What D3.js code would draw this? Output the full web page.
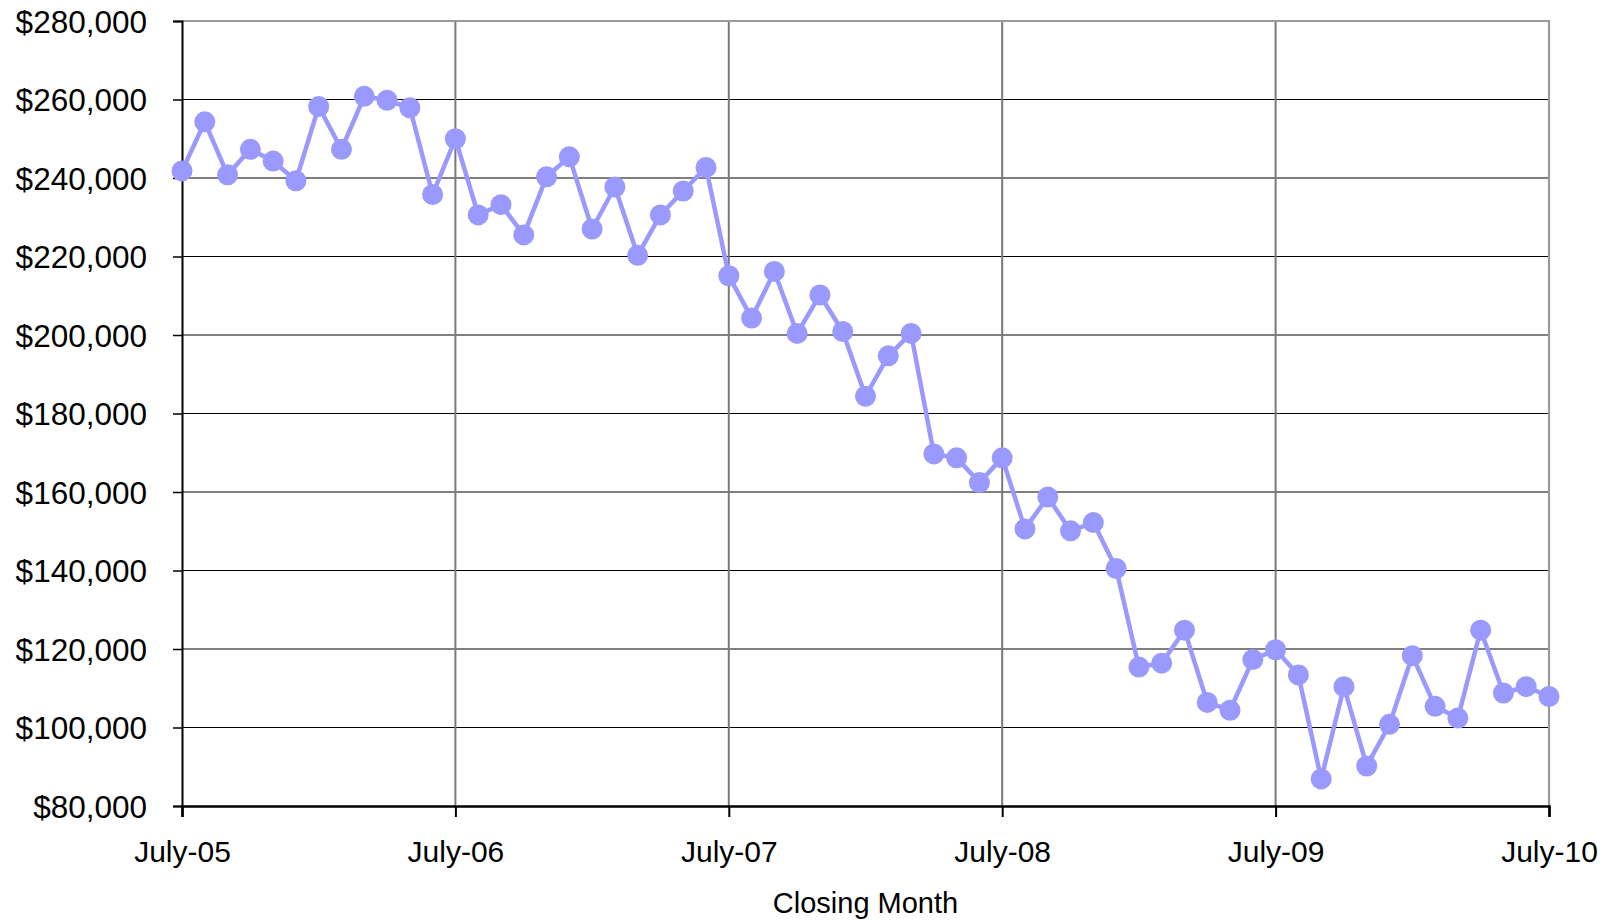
<!DOCTYPE html>
<html>
<head>
<meta charset="utf-8">
<script src="https://cdn.jsdelivr.net/npm/d3@7"></script>
<style>
  html, body { margin: 0; padding: 0; background: #fff; }
  svg { display: block; }
  text { font-family: "Liberation Sans", Arial, sans-serif; fill: #000; }
</style>
</head>
<body>
<svg id="chart" width="1613" height="922"></svg>
<script>
// Monthly median closing price, July 2005 .. July 2010
const months = d3.range(61).map(i => new Date(2005, 6 + i, 1));
const prices = [
  241800, 254300, 240800, 247300, 244300, 239300, 258200, 247300, 260800, 259800, 257900, 235800,
  250000, 230600, 233200, 225500, 240300, 245400, 227000, 237700, 220300, 230600, 236700, 242700,
  215100, 204300, 216200, 200400, 210200, 200900, 184400, 194700, 200400, 169700, 168700, 162400,
  168700, 150600, 158700, 150100, 152200, 140500, 115400, 116400, 124800, 106400, 104400, 117300,
  119800, 113400, 86900, 110400, 90200, 100800, 118300, 105400, 102400, 124800, 108800, 110400,
  107900
];
const xTickIndex = [0, 12, 24, 36, 48, 60];
const xTickLabels = ["July-05", "July-06", "July-07", "July-08", "July-09", "July-10"];
const yTicks = [80000, 100000, 120000, 140000, 160000, 180000, 200000, 220000, 240000, 260000, 280000];
const xTitle = "Closing Month";

const svg = d3.select("#chart");
const L = 182, R = 1549, T = 21, B = 806;

const x = d3.scaleLinear().domain([0, 60]).range([L, R]);
const y = d3.scaleLinear().domain([80000, 280000]).range([B, T]);
const fmt = v => "$" + d3.format(",")(v);

// horizontal gridlines
svg.append("g").selectAll("line").data(yTicks.filter(v => v > 80000 && v < 280000)).join("line")
  .attr("x1", L).attr("x2", R)
  .attr("y1", d => y(d)).attr("y2", d => y(d))
  .attr("stroke", "#000").attr("stroke-width", 1.2);

// vertical gridlines
svg.append("g").selectAll("line").data(xTickIndex.filter(i => i > 0 && i < 60)).join("line")
  .attr("x1", d => x(d)).attr("x2", d => x(d))
  .attr("y1", T).attr("y2", B)
  .attr("stroke", "#7a7a7a").attr("stroke-width", 2);

// plot border top & right
svg.append("path")
  .attr("d", `M${L},${T}H${R}V${B}`)
  .attr("fill", "none").attr("stroke", "#9a9a9a").attr("stroke-width", 2.2);

// y axis
const yAxis = d3.axisLeft(y).tickValues(yTicks).tickFormat(fmt).tickSize(9).tickPadding(26);
const gy = svg.append("g").attr("transform", `translate(${L},0)`).call(yAxis);
gy.select(".domain").attr("stroke", "#000").attr("stroke-width", 2);
gy.selectAll(".tick line").attr("stroke", "#000").attr("stroke-width", 1.5);
gy.selectAll(".tick text").attr("font-size", 31.5).attr("font-family", "Liberation Sans, Arial, sans-serif").attr("fill", "#000").attr("dy", "0.36em");

// x axis
const xAxis = d3.axisBottom(x).tickValues(xTickIndex).tickFormat((d, i) => xTickLabels[i]).tickSize(11).tickPadding(0);
const gx = svg.append("g").attr("transform", `translate(0,${B})`).call(xAxis);
gx.select(".domain").attr("stroke", "#000").attr("stroke-width", 2.5);
gx.selectAll(".tick line").attr("stroke", "#000").attr("stroke-width", 2);
gx.selectAll(".tick text").attr("font-size", 30).attr("font-family", "Liberation Sans, Arial, sans-serif").attr("fill", "#000")
  .attr("dy", null).attr("y", 56);

// title
svg.append("text").attr("x", (L + R) / 2).attr("y", 913).attr("text-anchor", "middle")
  .attr("font-size", 29).text(xTitle);

// series line
const data = prices.map((v, i) => ({ i, v, date: months[i] }));
svg.append("path").datum(data)
  .attr("fill", "none").attr("stroke", "#9999ff").attr("stroke-width", 4.5)
  .attr("stroke-linejoin", "round")
  .attr("d", d3.line().x(d => x(d.i)).y(d => y(d.v)));

svg.append("g").selectAll("circle").data(data).join("circle")
  .attr("cx", d => x(d.i)).attr("cy", d => y(d.v)).attr("r", 10.5)
  .attr("fill", "#9999ff");
</script>
</body>
</html>
